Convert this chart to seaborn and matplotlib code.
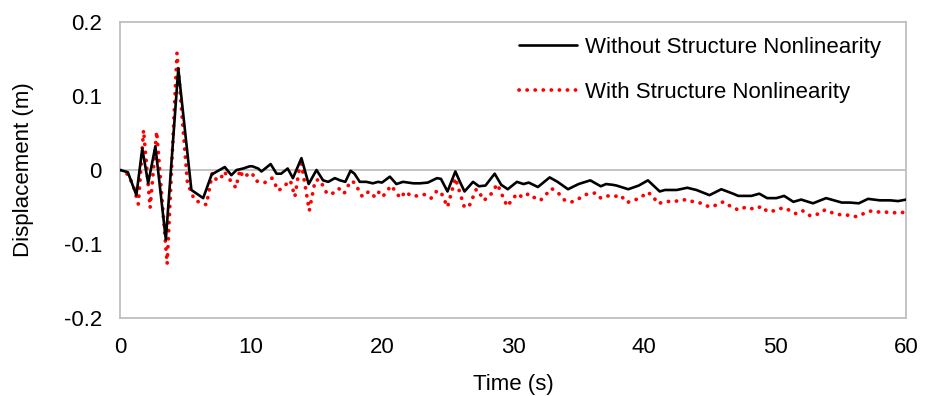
import matplotlib
matplotlib.use("Agg")
import matplotlib.pyplot as plt
import seaborn as sns
import pandas as pd

# Roof displacement history, linear structure
time_linear = [0, 0.6, 1.25, 1.7, 2.15, 2.7, 3.5, 4.45, 5.45, 6.35, 7.0, 7.4, 8.0, 8.5,
               8.9, 9.4, 9.9, 10.1, 10.55, 10.8, 11.5, 11.95, 12.3, 12.8, 13.2, 13.85,
               14.4, 15.0, 15.5, 15.9, 16.4, 16.8, 17.2, 17.6, 17.9, 18.3, 18.8, 19.3,
               19.7, 20.0, 20.6, 21.1, 21.6, 22.4, 22.9, 23.5, 24.2, 24.5, 25.0, 25.6,
               25.95, 26.3, 26.95, 27.4, 27.9, 28.6, 29.1, 29.6, 30.3, 30.8, 31.2, 31.9,
               32.8, 33.4, 34.2, 35.0, 35.9, 36.7, 37.1, 37.6, 37.9, 38.8, 39.6, 40.3,
               41.2, 41.6, 42.5, 43.3, 44.0, 45.0, 45.9, 46.8, 47.2, 47.7, 48.2, 48.8,
               49.4, 50.1, 50.7, 51.4, 52.0, 52.9, 53.9, 55.1, 55.7, 56.4, 57.1, 58.0,
               58.8, 59.4, 60.0]
disp_linear = [0.0, -0.003, -0.034, 0.029, -0.018, 0.032, -0.094, 0.137, -0.027, -0.038,
               -0.006, -0.002, 0.004, -0.007, 0.0, 0.002, 0.005, 0.005, 0.002, -0.002,
               0.008, -0.005, -0.005, 0.002, -0.011, 0.016, -0.019, 0.0, -0.014, -0.016,
               -0.011, -0.014, -0.016, -0.001, -0.005, -0.016, -0.016, -0.018, -0.016,
               -0.017, -0.009, -0.019, -0.016, -0.018, -0.018, -0.017, -0.011, -0.012,
               -0.029, -0.002, -0.016, -0.029, -0.016, -0.022, -0.021, -0.005, -0.020,
               -0.026, -0.016, -0.019, -0.017, -0.023, -0.010, -0.016, -0.026, -0.019,
               -0.014, -0.022, -0.019, -0.020, -0.021, -0.026, -0.021, -0.014, -0.029,
               -0.027, -0.027, -0.024, -0.027, -0.034, -0.026, -0.032, -0.035, -0.035,
               -0.035, -0.032, -0.038, -0.038, -0.035, -0.043, -0.040, -0.045, -0.038,
               -0.044, -0.044, -0.045, -0.039, -0.041, -0.041, -0.042, -0.040]

# Roof displacement history, nonlinear structure
time_nonlinear = [0, 0.6, 1.0, 1.4, 1.8, 2.3, 2.8, 3.6, 4.35, 5.15, 5.7, 6.6, 7.05, 7.35,
                  7.65, 7.95, 8.5, 8.85, 9.15, 9.4, 9.85, 10.1, 10.3, 10.6, 11.05, 11.6,
                  12.1, 12.7, 13.0, 13.35, 13.8, 14.45, 14.9, 15.25, 15.8, 16.2, 16.7,
                  17.1, 17.6, 17.9, 18.5, 19.0, 19.5, 19.8, 20.1, 20.7, 21.4, 21.8, 22.2,
                  22.7, 23.3, 23.75, 24.2, 24.5, 25.0, 25.6, 26.3, 26.7, 27.2, 27.4,
                  27.75, 28.2, 28.8, 29.55, 30.3, 30.75, 31.2, 31.6, 32.1, 32.95, 33.5,
                  33.95, 34.5, 35.1, 35.6, 36.3, 36.7, 37.2, 37.7, 38.2, 38.7, 39.2, 39.7,
                  40.25, 40.7, 41.0, 41.5, 42.0, 42.6, 43.2, 43.8, 44.4, 45.0, 45.6,
                  46.05, 46.6, 47.2, 47.8, 48.4, 49.0, 49.4, 50.0, 50.6, 51.2, 51.6,
                  52.1, 52.7, 53.4, 53.8, 54.4, 55.1, 55.6, 56.2, 56.9, 57.4, 58.0, 58.6,
                  59.3, 60.0]
disp_nonlinear = [0.0, -0.006, -0.020, -0.046, 0.054, -0.051, 0.052, -0.127, 0.158,
                  -0.018, -0.041, -0.047, -0.004, -0.013, -0.013, -0.002, -0.016, -0.024,
                  0.0, -0.010, -0.005, -0.004, -0.014, -0.016, -0.017, -0.011, -0.028,
                  -0.019, -0.014, -0.036, 0.014, -0.055, -0.014, -0.013, -0.032, -0.032,
                  -0.025, -0.032, -0.015, -0.017, -0.036, -0.029, -0.037, -0.029, -0.035,
                  -0.021, -0.038, -0.029, -0.035, -0.035, -0.033, -0.038, -0.028, -0.030,
                  -0.050, -0.011, -0.051, -0.047, -0.026, -0.029, -0.041, -0.036, -0.019,
                  -0.049, -0.032, -0.037, -0.032, -0.037, -0.041, -0.025, -0.032, -0.041,
                  -0.043, -0.038, -0.033, -0.031, -0.038, -0.035, -0.036, -0.034, -0.044,
                  -0.041, -0.038, -0.030, -0.035, -0.045, -0.044, -0.042, -0.042, -0.040,
                  -0.043, -0.045, -0.050, -0.047, -0.043, -0.049, -0.054, -0.050, -0.053,
                  -0.049, -0.056, -0.055, -0.051, -0.055, -0.059, -0.055, -0.062, -0.059,
                  -0.054, -0.058, -0.061, -0.061, -0.063, -0.058, -0.055, -0.057, -0.057,
                  -0.058, -0.057]

label_linear = "Without Structure Nonlinearity"
label_nonlinear = "With Structure Nonlinearity"
x_ticks = [0, 10, 20, 30, 40, 50, 60]
y_ticks = [-0.2, -0.1, 0, 0.1, 0.2]
y_tick_labels = ["-0.2", "-0.1", "0", "0.1", "0.2"]

sns.set_theme(style="white")
plt.rcParams["font.family"] = ["Liberation Sans", "DejaVu Sans"]
plt.rcParams["text.color"] = "black"
plt.rcParams["axes.labelcolor"] = "black"

df_lin = pd.DataFrame({"t": time_linear, "d": disp_linear})
df_nl = pd.DataFrame({"t": time_nonlinear, "d": disp_nonlinear})

fig = plt.figure(figsize=(9.31, 3.96), dpi=100)
ax = fig.add_axes([120 / 931, 78 / 396, 786 / 931, 296 / 396])

grey = "#BFBFBF"
ax.axhline(0, color=grey, lw=1.3, zorder=1)

sns.lineplot(data=df_lin, x="t", y="d", ax=ax, color="black", lw=1.9,
             label=label_linear, sort=False, estimator=None, zorder=3)
sns.lineplot(data=df_nl, x="t", y="d", ax=ax, color="#FF0000", lw=2.7,
             linestyle=(0, (0.05, 2.1)), dash_capstyle="round",
             label=label_nonlinear, sort=False, estimator=None, zorder=2)

ax.set_xlim(0, 60)
ax.set_ylim(-0.2, 0.2)
ax.set_xticks(x_ticks)
ax.set_xticklabels([str(v) for v in x_ticks])
ax.set_yticks(y_ticks)
ax.set_yticklabels(y_tick_labels)
ax.tick_params(axis="both", length=0, labelsize=16, colors="black")
ax.tick_params(axis="y", pad=13)
ax.tick_params(axis="x", pad=14)

for side in ["left", "right", "top", "bottom"]:
    ax.spines[side].set_color(grey)
    ax.spines[side].set_linewidth(1.3)
    ax.spines[side].set_visible(True)

ax.set_xlabel("Time (s)", fontsize=16, labelpad=11)
ax.set_ylabel("Displacement (m)", fontsize=16, labelpad=21)

ax.legend(loc="upper left", bbox_to_anchor=(519 / 931, 1 - 37 / 396),
          bbox_transform=fig.transFigure, frameon=False, fontsize=16,
          handlelength=2.6, handletextpad=0.35, labelspacing=1.07,
          borderpad=0, borderaxespad=0)

fig.savefig("out.png", dpi=100)
